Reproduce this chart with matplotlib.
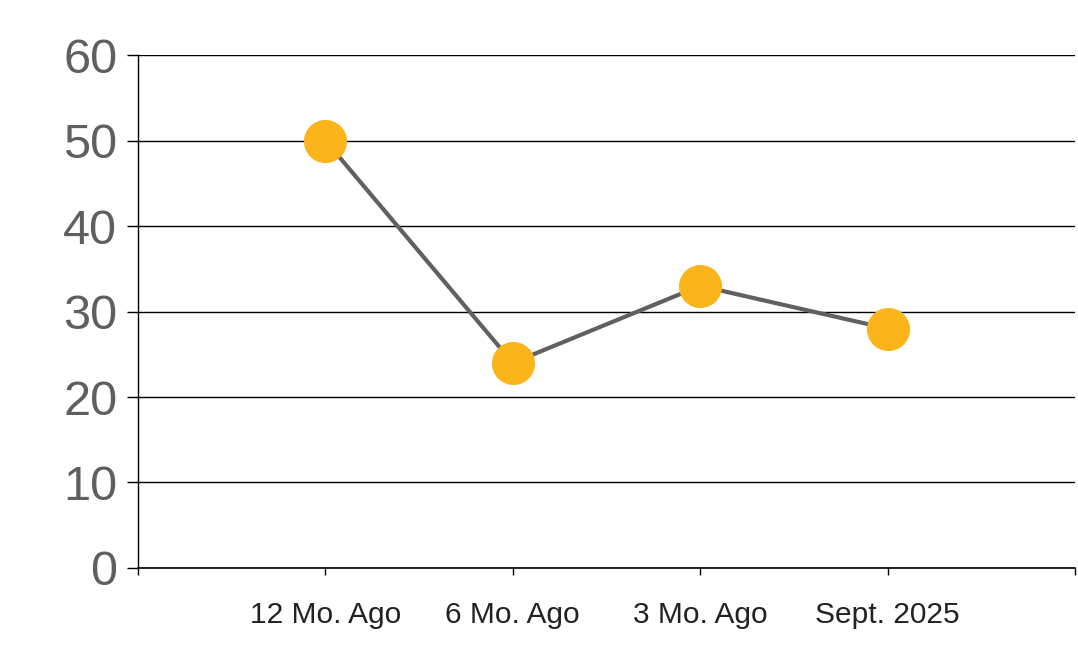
import numpy as np
from matplotlib import pyplot as plt

plt.rcParams['font.family'] = ['Liberation Sans', 'DejaVu Sans']

categories = ['12 Mo. Ago', '6 Mo. Ago', '3 Mo. Ago', 'Sept. 2025']
values = [50, 24, 33, 28]
yticks = [0, 10, 20, 30, 40, 50, 60]

fig = plt.figure(figsize=(10.78, 6.63), dpi=100)
ax = fig.add_axes([0.128, 0.1433, 0.8692, 0.7737])

x = np.arange(1, len(categories) + 1)
ax.plot(x, values, color='#606060', lw=3, zorder=3)
ax.plot(x, values, 'o', ms=30, color='#fbb41a', mec='#fbb41a', zorder=4)

ax.set_xlim(0, len(categories) + 1)
ax.set_ylim(0, 60)
ax.set_yticks(yticks)
ax.set_xticks(np.arange(0, len(categories) + 2))
ax.set_xticklabels([''] + categories + [''])

ax.grid(axis='y', color='black', lw=1)
ax.set_axisbelow(True)
for s in ['top', 'right']:
    ax.spines[s].set_visible(False)
ax.spines['left'].set_linewidth(1)
ax.spines['bottom'].set_linewidth(1.2)

ax.tick_params(axis='y', length=8, width=1, pad=7, labelsize=35, labelcolor='#5f5f5f')
ax.tick_params(axis='x', length=5, width=1, pad=19, labelsize=21.5, labelcolor='#222222')
for lab in ax.get_yticklabels():
    lab.set_va('center_baseline')

fig.savefig('out.png', dpi=100)
